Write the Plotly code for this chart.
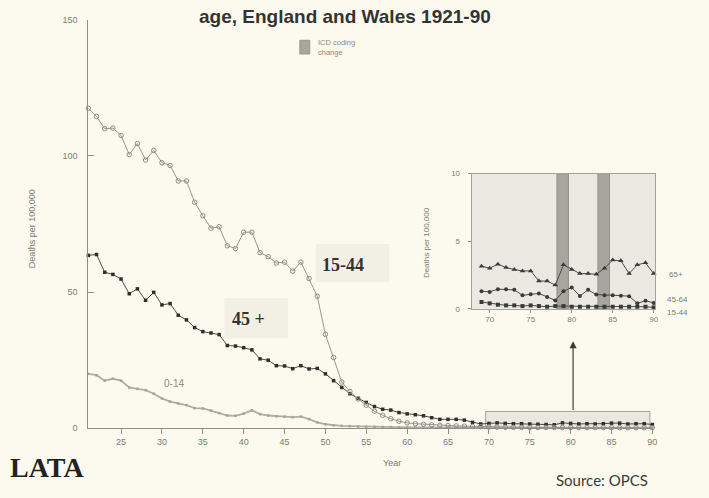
import plotly.graph_objects as go

W, H = 709, 498


def px(x):
    return x / W


def py(y):
    return 1 - y / H


# ---- main chart data: deaths per 100,000 by age group, 1921-90 ----
years = list(range(1921, 1991))

age_15_44 = [117.5, 114.5, 110.0, 110.2, 107.5, 100.5, 104.5, 98.5, 102.0, 97.5,
             96.5, 90.8, 90.8, 83.0, 78.0, 73.5, 74.0, 67.0, 66.0, 72.0,
             72.0, 64.5, 63.0, 60.7, 61.0, 57.7, 61.0, 55.0, 48.5, 34.5,
             26.0, 17.0, 13.5, 10.8, 8.5, 6.3, 4.8, 3.5, 2.6, 2.0,
             1.7, 1.5, 1.3, 1.1, 1.0, 0.9, 0.8, 0.7, 0.6, 0.5,
             0.45, 0.4, 0.35, 0.35, 0.3, 0.3, 0.3, 0.3, 0.3, 0.3,
             0.25, 0.25, 0.25, 0.25, 0.25, 0.25, 0.2, 0.2, 0.2, 0.2]

age_45_plus = [63.5, 63.8, 57.3, 56.5, 54.8, 49.4, 51.2, 47.0, 49.9, 45.3,
               45.8, 41.5, 39.8, 37.0, 35.5, 35.0, 34.4, 30.4, 30.2, 29.6,
               28.8, 25.5, 25.0, 23.0, 22.9, 21.9, 23.0, 21.8, 22.0, 20.0,
               17.5, 15.0, 12.7, 11.0, 9.5, 8.0, 7.0, 6.7, 5.8, 5.3,
               5.0, 4.6, 3.9, 3.3, 3.3, 3.3, 3.0, 2.2, 1.6, 1.8,
               2.0, 1.8, 1.7, 1.7, 1.6, 1.5, 1.4, 1.3, 2.0, 1.8,
               1.6, 1.7, 1.6, 1.7, 1.9, 1.9, 1.6, 1.7, 1.7, 1.4]

age_0_14 = [20.0, 19.5, 17.5, 18.2, 17.5, 15.0, 14.5, 14.0, 12.7, 11.0,
            9.8, 9.1, 8.5, 7.4, 7.3, 6.5, 5.6, 4.7, 4.6, 5.4,
            6.6, 5.2, 4.7, 4.4, 4.3, 4.1, 4.3, 3.4, 2.2, 1.5,
            1.1, 0.9, 0.8, 0.7, 0.6, 0.55, 0.5, 0.45, 0.4, 0.35,
            0.3, 0.3, 0.3, 0.25, 0.25, 0.25, 0.2, 0.2, 0.2, 0.2,
            0.15, 0.15, 0.15, 0.15, 0.15, 0.1, 0.1, 0.1, 0.1, 0.1,
            0.1, 0.1, 0.1, 0.1, 0.1, 0.1, 0.1, 0.1, 0.1, 0.1]

main_tick_years = [1925, 1930, 1935, 1940, 1945, 1950, 1955, 1960, 1965,
                   1970, 1975, 1980, 1985, 1990]
main_tick_labels = ["25", "30", "35", "40", "45", "50", "55", "60", "65",
                    "70", "75", "80", "85", "90"]
main_y_ticks = [0, 50, 100, 150]

# ---- inset data: 1969-90 ----
inset_years = list(range(1969, 1991))
inset_65_plus = [3.15, 3.0, 3.3, 3.05, 2.9, 2.8, 2.8, 2.05, 2.05, 1.75, 3.25,
                 2.9, 2.6, 2.6, 2.55, 3.0, 3.6, 3.55, 2.6, 3.25, 3.4, 2.6]
inset_45_64 = [1.3, 1.25, 1.45, 1.45, 1.4, 1.0, 1.08, 1.13, 0.88, 0.62, 1.3,
               1.57, 0.95, 1.4, 1.05, 1.0, 1.0, 0.97, 0.93, 0.4, 0.6, 0.43]
inset_15_44 = [0.5, 0.4, 0.3, 0.25, 0.25, 0.2, 0.25, 0.2, 0.15, 0.2, 0.2,
               0.15, 0.15, 0.15, 0.15, 0.15, 0.15, 0.15, 0.15, 0.15, 0.15, 0.1]
inset_tick_years = [1970, 1975, 1980, 1985, 1990]
inset_tick_labels = ["70", "75", "80", "85", "90"]
icd_changes = [(1978.2, 1979.6), (1983.2, 1984.6)]

BG = "#fcfaee"
AXIS = "#8f8f88"
SANS = "Liberation Sans, Arial, sans-serif"
SERIF = "Liberation Serif, Times New Roman, serif"
TICKFONT = dict(family=SANS, size=9, color="#7a7a74")

fig = go.Figure()

fig.add_trace(go.Scatter(
    x=years, y=age_0_14, mode="lines+markers", name="0-14",
    line=dict(color="#aeaea6", width=1.8),
    marker=dict(symbol="square", size=2.5, color="#a4a49c"),
    cliponaxis=False, xaxis="x", yaxis="y"))
fig.add_trace(go.Scatter(
    x=years, y=age_45_plus, mode="lines+markers", name="45 +",
    line=dict(color="#4a4a47", width=1),
    marker=dict(symbol="square", size=3.5, color="#2e2e2c"),
    cliponaxis=False, xaxis="x", yaxis="y"))
fig.add_trace(go.Scatter(
    x=years, y=age_15_44, mode="lines+markers", name="15-44",
    line=dict(color="#97978f", width=1),
    marker=dict(symbol="circle-open", size=4.5, color="#8c8c85", line=dict(width=1)),
    cliponaxis=False, xaxis="x", yaxis="y"))

fig.add_trace(go.Scatter(
    x=inset_years, y=inset_65_plus, mode="lines+markers", name="65+",
    line=dict(color="#4a4a47", width=1),
    marker=dict(symbol="triangle-up", size=5, color="#3a3a38"),
    cliponaxis=False, xaxis="x2", yaxis="y2"))
fig.add_trace(go.Scatter(
    x=inset_years, y=inset_45_64, mode="lines+markers", name="45-64",
    line=dict(color="#4a4a47", width=1),
    marker=dict(symbol="circle", size=4, color="#3a3a38"),
    cliponaxis=False, xaxis="x2", yaxis="y2"))
fig.add_trace(go.Scatter(
    x=inset_years, y=inset_15_44, mode="lines+markers", name="15-44 (inset)",
    line=dict(color="#4a4a47", width=1),
    marker=dict(symbol="square", size=4, color="#3a3a38"),
    cliponaxis=False, xaxis="x2", yaxis="y2"))

shapes = [
    # shaded inset panel
    dict(type="rect", xref="x2 domain", yref="y2 domain", x0=0, x1=1, y0=0, y1=1,
         fillcolor="#e9e9e2", line=dict(width=0), layer="below"),
    # zoomed window on the main chart
    dict(type="rect", xref="x", yref="y", x0=1969.6, x1=1989.7, y0=0.3, y1=6.2,
         fillcolor="#e8e8e1", line=dict(color="#a3a39c", width=1), layer="below"),
    # soft label panels
    dict(type="rect", xref="paper", yref="paper", x0=px(318), x1=px(392),
         y0=py(283), y1=py(244), fillcolor="rgba(215,215,205,0.28)",
         line=dict(width=0), layer="below"),
    dict(type="rect", xref="paper", yref="paper", x0=px(226), x1=px(290),
         y0=py(340), y1=py(299), fillcolor="rgba(215,215,205,0.28)",
         line=dict(width=0), layer="below"),
    # legend swatch for the ICD coding change
    dict(type="rect", xref="paper", yref="paper", x0=px(302), x1=px(312),
         y0=py(50), y1=py(36), fillcolor="#a6a69e", line=dict(color="#96968f", width=1)),
]
for x0, x1 in icd_changes:
    shapes.append(dict(type="rect", xref="x2", yref="y2 domain", x0=x0, x1=x1,
                       y0=0, y1=1, fillcolor="#a6a69e",
                       line=dict(color="#8e8e87", width=1), layer="below"))

annotations = [
    dict(text="<b>age, England and Wales 1921-90</b>", xref="paper", yref="paper",
         x=px(347), y=py(12), xanchor="center", yanchor="middle", showarrow=False,
         font=dict(family=SANS, size=19, color="#333")),
    dict(text="ICD coding<br>change", xref="paper", yref="paper", x=px(318), y=py(43),
         xanchor="left", yanchor="middle", showarrow=False, align="left",
         font=dict(family=SANS, size=7.5, color="#8a8a84")),
    dict(text="Deaths per 100,000", xref="paper", yref="paper", x=px(33), y=py(228),
         textangle=-90, showarrow=False, xanchor="center", yanchor="middle",
         font=dict(family=SANS, size=9, color="#7a7a74")),
    dict(text="Deaths per 100,000", xref="paper", yref="paper", x=px(429), y=py(242),
         textangle=-90, showarrow=False, xanchor="center", yanchor="middle",
         font=dict(family=SANS, size=8, color="#7a7a74")),
    dict(text="Year", xref="paper", yref="paper", x=px(395), y=py(467),
         showarrow=False, xanchor="center", yanchor="middle",
         font=dict(family=SANS, size=9, color="#7a7a74")),
    dict(text="<b>15-44</b>", xref="paper", yref="paper", x=px(345), y=py(265),
         showarrow=False, xanchor="center", yanchor="middle",
         font=dict(family=SERIF, size=18, color="#333")),
    dict(text="<b>45 +</b>", xref="paper", yref="paper", x=px(250), y=py(320),
         showarrow=False, xanchor="center", yanchor="middle",
         font=dict(family=SERIF, size=18, color="#333")),
    dict(text="0-14", xref="paper", yref="paper", x=px(175), y=py(386),
         showarrow=False, xanchor="center", yanchor="middle",
         font=dict(family=SANS, size=10, color="#8a8a84")),
    dict(text="65+", xref="paper", yref="paper", x=px(672), y=py(275),
         showarrow=False, xanchor="left", yanchor="middle",
         font=dict(family=SANS, size=8, color="#7a7a74")),
    dict(text="45-64", xref="paper", yref="paper", x=px(670), y=py(301),
         showarrow=False, xanchor="left", yanchor="middle",
         font=dict(family=SANS, size=8, color="#7a7a74")),
    dict(text="15-44", xref="paper", yref="paper", x=px(670), y=py(314),
         showarrow=False, xanchor="left", yanchor="middle",
         font=dict(family=SANS, size=8, color="#7a7a74")),
    dict(text="Source: OPCS", xref="paper", yref="paper", x=px(655), y=py(485),
         showarrow=False, xanchor="right", yanchor="middle",
         font=dict(family="Lato, Liberation Sans, sans-serif", size=15, color="#3a3a38")),
    dict(text="<b>LATA</b>", xref="paper", yref="paper", x=px(8), y=py(472),
         showarrow=False, xanchor="left", yanchor="middle",
         font=dict(family=SERIF, size=28, color="#222")),
    # arrow from the zoomed window up to the inset
    dict(text="", xref="x", yref="y", x=1980.3, y=32, axref="x", ayref="y",
         ax=1980.3, ay=6.2, showarrow=True, arrowhead=2, arrowsize=1.2,
         arrowwidth=1.2, arrowcolor="#3a3a38"),
]

fig.update_layout(
    width=W, height=H,
    margin=dict(l=0, r=0, t=0, b=0),
    paper_bgcolor=BG, plot_bgcolor="rgba(0,0,0,0)",
    showlegend=False,
    shapes=shapes,
    annotations=annotations,
    xaxis=dict(domain=[px(89), px(657)], range=[1921, 1990], anchor="y",
               showline=True, linecolor=AXIS, linewidth=1, ticks="outside",
               ticklen=5, tickcolor=AXIS, tickvals=main_tick_years,
               ticktext=main_tick_labels, tickfont=TICKFONT,
               showgrid=False, zeroline=False),
    yaxis=dict(domain=[py(432), py(15)], range=[0, 150], anchor="x",
               showline=True, linecolor=AXIS, linewidth=1, ticks="inside",
               ticklen=6, tickcolor=AXIS, tickvals=main_y_ticks,
               tickfont=TICKFONT, ticklabelstandoff=8,
               showgrid=False, zeroline=False),
    xaxis2=dict(domain=[px(475), px(660)], range=[1967.8, 1990.2], anchor="y2",
                showline=True, mirror=True, linecolor="#a3a39c", linewidth=1,
                ticks="outside", ticklen=3, tickcolor="#8f8f88",
                tickvals=inset_tick_years, ticktext=inset_tick_labels,
                tickfont=dict(family=SANS, size=8, color="#7a7a74"),
                showgrid=False, zeroline=False),
    yaxis2=dict(domain=[py(310), py(172)], range=[0, 10], anchor="x2",
                showline=True, mirror=True, linecolor="#a3a39c", linewidth=1,
                ticks="outside", ticklen=3, tickcolor="#8f8f88",
                tickvals=[0, 5, 10], ticklabelstandoff=6,
                tickfont=dict(family=SANS, size=8, color="#7a7a74"),
                showgrid=False, zeroline=False),
)

fig.write_html("out.html")
